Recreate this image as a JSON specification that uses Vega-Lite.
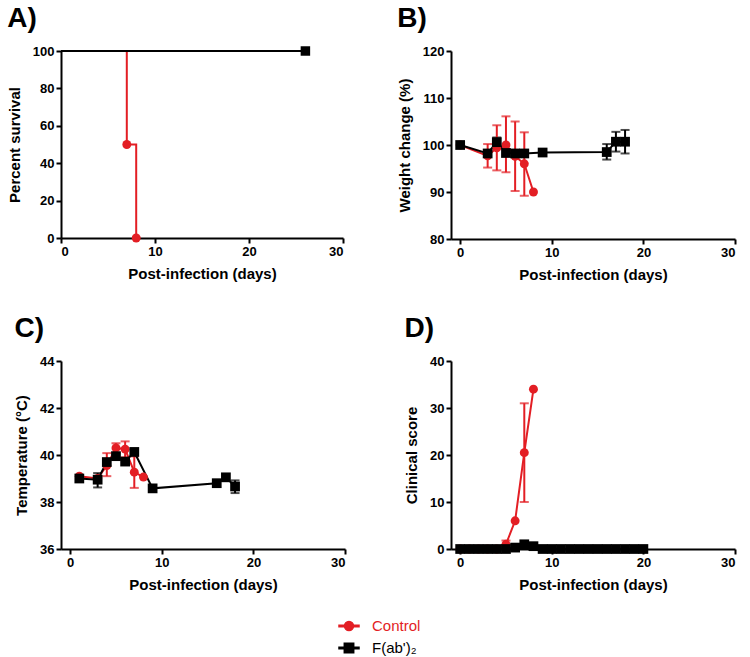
{
  "$schema": "https://vega.github.io/schema/vega-lite/v6.json",
  "padding": {"left": 7, "top": 5, "right": 5, "bottom": 5},
  "background": "white",
  "config": {
    "font": "Liberation Sans",
    "view": {"stroke": null},
    "axis": {
      "grid": false,
      "domainColor": "#000000",
      "domainWidth": 2,
      "tickColor": "#000000",
      "tickWidth": 2,
      "tickSize": 5,
      "labelFont": "Liberation Sans",
      "labelFontSize": 13,
      "labelFontWeight": "bold",
      "labelColor": "#000000",
      "labelPadding": 2,
      "titleFont": "Liberation Sans",
      "titleFontSize": 15,
      "titleFontWeight": "bold",
      "titleColor": "#000000"
    },
    "axisX": {"titlePadding": 8},
    "axisY": {"titlePadding": 10},
    "title": {"fontSize": 28, "fontWeight": "bold", "anchor": "start", "frame": "bounds", "offset": 12, "color": "#000000", "font": "Liberation Sans"}
  },
  "data": {
    "values": [
      {"p": "A", "g": "Control", "day": 0, "v": 100, "m": 0},
      {"p": "A", "g": "Control", "day": 7, "v": 50, "m": 1},
      {"p": "A", "g": "Control", "day": 8, "v": 0, "m": 1},
      {"p": "A", "g": "F(ab')₂", "day": 0, "v": 100, "m": 0},
      {"p": "A", "g": "F(ab')₂", "day": 26, "v": 100, "m": 1},

      {"p": "B", "g": "Control", "day": 0, "v": 100, "m": 1},
      {"p": "B", "g": "Control", "day": 3, "v": 97.7, "lo": 95.2, "hi": 100.2, "m": 1},
      {"p": "B", "g": "Control", "day": 4, "v": 99.4, "lo": 94.6, "hi": 104.2, "m": 1},
      {"p": "B", "g": "Control", "day": 5, "v": 100, "lo": 94.2, "hi": 106.1, "m": 1},
      {"p": "B", "g": "Control", "day": 6, "v": 97.6, "lo": 90.2, "hi": 105, "m": 1},
      {"p": "B", "g": "Control", "day": 7, "v": 96, "lo": 89.2, "hi": 102.7, "m": 1},
      {"p": "B", "g": "Control", "day": 8, "v": 90, "m": 1},
      {"p": "B", "g": "F(ab')₂", "day": 0, "v": 100, "m": 1},
      {"p": "B", "g": "F(ab')₂", "day": 3, "v": 98.2, "m": 1},
      {"p": "B", "g": "F(ab')₂", "day": 4, "v": 100.6, "lo": 99.5, "hi": 101.6, "m": 1},
      {"p": "B", "g": "F(ab')₂", "day": 5, "v": 98.3, "m": 1},
      {"p": "B", "g": "F(ab')₂", "day": 6, "v": 98.2, "m": 1},
      {"p": "B", "g": "F(ab')₂", "day": 7, "v": 98.2, "m": 1},
      {"p": "B", "g": "F(ab')₂", "day": 9, "v": 98.4, "m": 1},
      {"p": "B", "g": "F(ab')₂", "day": 16, "v": 98.5, "lo": 96.9, "hi": 100.2, "m": 1},
      {"p": "B", "g": "F(ab')₂", "day": 17, "v": 100.7, "lo": 98.6, "hi": 102.8, "m": 1},
      {"p": "B", "g": "F(ab')₂", "day": 18, "v": 100.7, "lo": 98.2, "hi": 103.2, "m": 1},

      {"p": "C", "g": "Control", "day": 1, "v": 39.1, "m": 1},
      {"p": "C", "g": "Control", "day": 3, "v": 39.0, "m": 1},
      {"p": "C", "g": "Control", "day": 4, "v": 39.55, "lo": 39.1, "hi": 40.08, "m": 1},
      {"p": "C", "g": "Control", "day": 5, "v": 40.3, "lo": 40.1, "hi": 40.5, "m": 1},
      {"p": "C", "g": "Control", "day": 6, "v": 40.25, "lo": 39.9, "hi": 40.58, "m": 1},
      {"p": "C", "g": "Control", "day": 7, "v": 39.27, "lo": 38.6, "hi": 39.94, "m": 1},
      {"p": "C", "g": "Control", "day": 8, "v": 39.06, "m": 1},
      {"p": "C", "g": "F(ab')₂", "day": 1, "v": 39.0, "m": 1},
      {"p": "C", "g": "F(ab')₂", "day": 3, "v": 38.95, "lo": 38.62, "hi": 39.23, "m": 1},
      {"p": "C", "g": "F(ab')₂", "day": 4, "v": 39.7, "m": 1},
      {"p": "C", "g": "F(ab')₂", "day": 5, "v": 39.95, "m": 1},
      {"p": "C", "g": "F(ab')₂", "day": 6, "v": 39.72, "m": 1},
      {"p": "C", "g": "F(ab')₂", "day": 7, "v": 40.13, "m": 1},
      {"p": "C", "g": "F(ab')₂", "day": 9, "v": 38.58, "m": 1},
      {"p": "C", "g": "F(ab')₂", "day": 16, "v": 38.8, "m": 1},
      {"p": "C", "g": "F(ab')₂", "day": 17, "v": 39.05, "m": 1},
      {"p": "C", "g": "F(ab')₂", "day": 18, "v": 38.66, "lo": 38.38, "hi": 38.92, "m": 1},

      {"p": "D", "g": "Control", "day": 0, "v": 0, "m": 1},
      {"p": "D", "g": "Control", "day": 1, "v": 0, "m": 1},
      {"p": "D", "g": "Control", "day": 2, "v": 0, "m": 1},
      {"p": "D", "g": "Control", "day": 3, "v": 0, "m": 1},
      {"p": "D", "g": "Control", "day": 4, "v": 0, "m": 1},
      {"p": "D", "g": "Control", "day": 5, "v": 1.0, "lo": 0.2, "hi": 1.8, "m": 1},
      {"p": "D", "g": "Control", "day": 6, "v": 6, "m": 1},
      {"p": "D", "g": "Control", "day": 7, "v": 20.5, "lo": 10, "hi": 31, "m": 1},
      {"p": "D", "g": "Control", "day": 8, "v": 34, "m": 1},
      {"p": "D", "g": "F(ab')₂", "day": 0, "v": 0, "m": 1},
      {"p": "D", "g": "F(ab')₂", "day": 1, "v": 0, "m": 1},
      {"p": "D", "g": "F(ab')₂", "day": 2, "v": 0, "m": 1},
      {"p": "D", "g": "F(ab')₂", "day": 3, "v": 0, "m": 1},
      {"p": "D", "g": "F(ab')₂", "day": 4, "v": 0, "m": 1},
      {"p": "D", "g": "F(ab')₂", "day": 5, "v": 0, "m": 1},
      {"p": "D", "g": "F(ab')₂", "day": 6, "v": 0.3, "m": 1},
      {"p": "D", "g": "F(ab')₂", "day": 7, "v": 1.0, "m": 1},
      {"p": "D", "g": "F(ab')₂", "day": 8, "v": 0.6, "m": 1},
      {"p": "D", "g": "F(ab')₂", "day": 9, "v": 0, "m": 1},
      {"p": "D", "g": "F(ab')₂", "day": 10, "v": 0, "m": 1},
      {"p": "D", "g": "F(ab')₂", "day": 11, "v": 0, "m": 1},
      {"p": "D", "g": "F(ab')₂", "day": 12, "v": 0, "m": 1},
      {"p": "D", "g": "F(ab')₂", "day": 13, "v": 0, "m": 1},
      {"p": "D", "g": "F(ab')₂", "day": 14, "v": 0, "m": 1},
      {"p": "D", "g": "F(ab')₂", "day": 15, "v": 0, "m": 1},
      {"p": "D", "g": "F(ab')₂", "day": 16, "v": 0, "m": 1},
      {"p": "D", "g": "F(ab')₂", "day": 17, "v": 0, "m": 1},
      {"p": "D", "g": "F(ab')₂", "day": 18, "v": 0, "m": 1},
      {"p": "D", "g": "F(ab')₂", "day": 19, "v": 0, "m": 1},
      {"p": "D", "g": "F(ab')₂", "day": 20, "v": 0, "m": 1}
    ]
  },
  "columns": 2,
  "spacing": {"column": 51, "row": 33},
  "concat": [
    {
      "title": {"text": "A)"},
      "width": 282, "height": 187,
      "transform": [{"filter": "datum.p === 'A'"}],
      "encoding": {
        "x": {"field": "day", "type": "quantitative", "scale": {"domain": [0, 30], "nice": false, "zero": false}, "axis": {"values": [0, 10, 20, 30], "title": "Post-infection (days)"}},
        "y": {"field": "v", "type": "quantitative", "scale": {"domain": [0, 100], "nice": false}, "axis": {"values": [0, 20, 40, 60, 80, 100], "title": "Percent survival"}},
        "color": {"field": "g", "type": "nominal", "scale": {"domain": ["Control", "F(ab')₂"], "range": ["#e31e24", "#000000"]},
          "legend": {"title": null, "orient": "none", "legendX": 277, "legendY": 564, "direction": "vertical", "symbolSize": 400, "labelFontSize": 15, "labelFont": "Liberation Sans", "labelFontWeight": "normal", "rowPadding": 3, "labelOffset": 12, "padding": 0,
            "encode": {
              "labels": {"update": {"fill": {"signal": "datum.value === 'Control' ? '#e31e24' : '#000000'"}}}
            }
          }
        }
      },
      "layer": [
        {"mark": {"type": "line", "interpolate": "step-after", "strokeWidth": 2}},
        {"transform": [{"filter": "datum.m === 1 && datum.g === 'Control'"}], "mark": {"type": "point", "shape": "circle", "filled": true, "size": 80, "opacity": 1}},
        {"transform": [{"filter": "datum.m === 1 && datum.g !== 'Control'"}], "mark": {"type": "point", "shape": "square", "filled": true, "size": 90, "opacity": 1}},
        {"transform": [{"filter": "false"}], "mark": {"type": "point", "filled": true, "opacity": 1},
          "encoding": {"shape": {"field": "g", "type": "nominal", "scale": {"domain": ["Control", "F(ab')₂"], "range": ["M-1,-0.07H1V0.07H-1Z M0.45,0A0.45,0.45 0 1 1 -0.45,0A0.45,0.45 0 1 1 0.45,0Z", "M-1,-0.07H1V0.07H-1Z M-0.47,-0.47H0.47V0.47H-0.47Z"]}}}}
      ]
    },
    {
      "title": {"text": "B)"},
      "width": 284, "height": 188,
      "transform": [{"filter": "datum.p === 'B'"}],
      "encoding": {
        "x": {"field": "day", "type": "quantitative", "scale": {"domain": [-1, 30], "nice": false, "zero": false}, "axis": {"values": [0, 10, 20, 30], "title": "Post-infection (days)"}},
        "color": {"field": "g", "type": "nominal", "scale": {"domain": ["Control", "F(ab')₂"], "range": ["#e31e24", "#000000"]}}
      },
      "layer": [
        {"transform": [{"filter": "isValid(datum.lo)"}], "mark": {"type": "errorbar", "ticks": {"size": 9, "thickness": 2}, "rule": {"strokeWidth": 2}},
          "encoding": {"y": {"field": "lo", "type": "quantitative", "scale": {"domain": [80, 120], "nice": false}, "title": "Weight change (%)"}, "y2": {"field": "hi"}}},
        {"mark": {"type": "line", "strokeWidth": 2},
          "encoding": {"y": {"field": "v", "type": "quantitative", "scale": {"domain": [80, 120], "nice": false}, "axis": {"values": [80, 90, 100, 110, 120], "title": "Weight change (%)"}}}},
        {"transform": [{"filter": "datum.g === 'Control'"}], "mark": {"type": "point", "shape": "circle", "filled": true, "size": 80, "opacity": 1},
          "encoding": {"y": {"field": "v", "type": "quantitative"}}},
        {"transform": [{"filter": "datum.g !== 'Control'"}], "mark": {"type": "point", "shape": "square", "filled": true, "size": 95, "opacity": 1},
          "encoding": {"y": {"field": "v", "type": "quantitative"}}}
      ]
    },
    {
      "title": {"text": "C)"},
      "width": 284, "height": 188,
      "transform": [{"filter": "datum.p === 'C'"}],
      "encoding": {
        "x": {"field": "day", "type": "quantitative", "scale": {"domain": [-1, 30], "nice": false, "zero": false}, "axis": {"values": [0, 10, 20, 30], "title": "Post-infection (days)"}},
        "color": {"field": "g", "type": "nominal", "scale": {"domain": ["Control", "F(ab')₂"], "range": ["#e31e24", "#000000"]}}
      },
      "layer": [
        {"transform": [{"filter": "isValid(datum.lo)"}], "mark": {"type": "errorbar", "ticks": {"size": 9, "thickness": 2}, "rule": {"strokeWidth": 2}},
          "encoding": {"y": {"field": "lo", "type": "quantitative", "scale": {"domain": [36, 44], "nice": false, "zero": false}, "title": "Temperature (°C)"}, "y2": {"field": "hi"}}},
        {"mark": {"type": "line", "strokeWidth": 2},
          "encoding": {"y": {"field": "v", "type": "quantitative", "scale": {"domain": [36, 44], "nice": false, "zero": false}, "axis": {"values": [36, 38, 40, 42, 44], "title": "Temperature (°C)"}}}},
        {"transform": [{"filter": "datum.g === 'Control'"}], "mark": {"type": "point", "shape": "circle", "filled": true, "size": 80, "opacity": 1},
          "encoding": {"y": {"field": "v", "type": "quantitative"}}},
        {"transform": [{"filter": "datum.g !== 'Control'"}], "mark": {"type": "point", "shape": "square", "filled": true, "size": 95, "opacity": 1},
          "encoding": {"y": {"field": "v", "type": "quantitative"}}}
      ]
    },
    {
      "title": {"text": "D)"},
      "width": 284, "height": 188,
      "transform": [{"filter": "datum.p === 'D'"}],
      "encoding": {
        "x": {"field": "day", "type": "quantitative", "scale": {"domain": [-1, 30], "nice": false, "zero": false}, "axis": {"values": [0, 10, 20, 30], "title": "Post-infection (days)"}},
        "color": {"field": "g", "type": "nominal", "scale": {"domain": ["Control", "F(ab')₂"], "range": ["#e31e24", "#000000"]}}
      },
      "layer": [
        {"transform": [{"filter": "isValid(datum.lo)"}], "mark": {"type": "errorbar", "ticks": {"size": 9, "thickness": 2}, "rule": {"strokeWidth": 2}},
          "encoding": {"y": {"field": "lo", "type": "quantitative", "scale": {"domain": [0, 40], "nice": false}, "title": "Clinical score"}, "y2": {"field": "hi"}}},
        {"mark": {"type": "line", "strokeWidth": 2},
          "encoding": {"y": {"field": "v", "type": "quantitative", "scale": {"domain": [0, 40], "nice": false}, "axis": {"values": [0, 10, 20, 30, 40], "title": "Clinical score"}}}},
        {"transform": [{"filter": "datum.g === 'Control'"}], "mark": {"type": "point", "shape": "circle", "filled": true, "size": 80, "opacity": 1},
          "encoding": {"y": {"field": "v", "type": "quantitative"}}},
        {"transform": [{"filter": "datum.g !== 'Control'"}], "mark": {"type": "point", "shape": "square", "filled": true, "size": 95, "opacity": 1},
          "encoding": {"y": {"field": "v", "type": "quantitative"}}}
      ]
    }
  ]
}
